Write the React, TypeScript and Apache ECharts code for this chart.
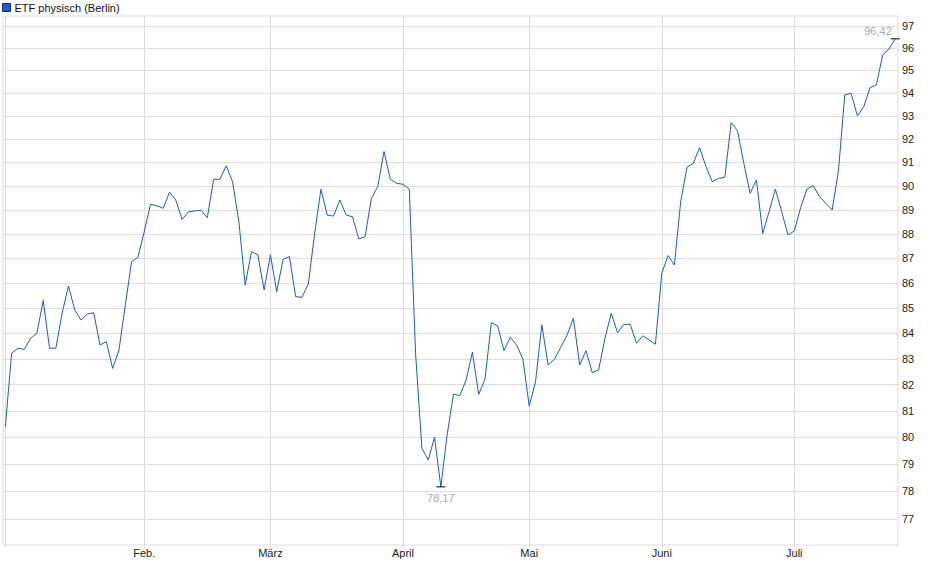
import { useEffect, useRef } from 'react';
import * as echarts from 'echarts';

// trading days (Berlin), 2025, one array per month
const janDays = [2, 3, 6, 7, 8, 9, 10, 13, 14, 15, 16, 17, 20, 21, 22, 23, 24, 27, 28, 29, 30, 31];
const febDays = [3, 4, 5, 6, 7, 10, 11, 12, 13, 14, 17, 18, 19, 20, 21, 24, 25, 26, 27, 28];
const marDays = [3, 4, 5, 6, 7, 10, 11, 12, 13, 14, 17, 18, 19, 20, 21, 24, 25, 26, 27, 28, 31];
const aprDays = [1, 2, 3, 4, 7, 8, 9, 10, 11, 14, 15, 16, 17, 22, 23, 24, 25, 28, 29, 30];
const mayDays = [2, 5, 6, 7, 8, 9, 12, 13, 14, 15, 16, 19, 20, 21, 22, 23, 26, 27, 28, 29, 30];
const junDays = [2, 3, 4, 5, 6, 9, 10, 11, 12, 13, 16, 17, 18, 19, 20, 23, 24, 25, 26, 27, 30];
const julDays = [1, 2, 3, 4, 7, 8, 9, 10, 11, 14, 15, 16, 17, 18, 21, 22, 23];

const monthNames = ['Jan.', 'Feb.', 'März', 'April', 'Mai', 'Juni', 'Juli'];

// closing prices, EUR
const janPrices = [80.4, 83.22, 83.41, 83.37, 83.8, 84.0, 85.3, 83.41, 83.41, 84.8, 85.88, 84.92, 84.52, 84.76, 84.81, 83.54, 83.67, 82.63, 83.34, 85.1, 86.86, 87.04];
const febPrices = [88.08, 89.23, 89.17, 89.06, 89.73, 89.41, 88.6, 88.91, 88.95, 88.98, 88.67, 90.28, 90.28, 90.85, 90.18, 88.51, 85.92, 87.27, 87.14, 85.72];
const marPrices = [87.14, 85.65, 86.96, 87.07, 85.45, 85.43, 85.96, 88.0, 89.86, 88.78, 88.74, 89.41, 88.78, 88.71, 87.79, 87.89, 89.48, 89.97, 91.46, 90.28, 90.11];
const aprPrices = [90.07, 89.86, 83.2, 79.59, 79.16, 80.01, 78.17, 80.1, 81.64, 81.58, 82.18, 83.26, 81.63, 82.22, 84.42, 84.29, 83.32, 83.84, 83.54, 82.99];
const mayPrices = [81.19, 82.11, 84.33, 82.76, 82.98, 83.45, 83.93, 84.59, 82.76, 83.32, 82.46, 82.57, 83.8, 84.79, 84.02, 84.35, 84.35, 83.61, 83.9, 83.74, 83.57];
const junPrices = [86.39, 87.11, 86.73, 89.34, 90.79, 90.96, 91.63, 90.82, 90.18, 90.32, 90.37, 92.71, 92.36, 90.96, 89.69, 90.25, 88.02, 88.92, 89.87, 88.92, 87.96];
const julPrices = [88.12, 89.09, 89.87, 90.01, 89.55, 89.27, 88.99, 90.65, 93.92, 93.99, 93.0, 93.4, 94.24, 94.36, 95.69, 95.96, 96.42];

const yTicks = [77, 78, 79, 80, 81, 82, 83, 84, 85, 86, 87, 88, 89, 90, 91, 92, 93, 94, 95, 96, 97];

const monthDays = [janDays, febDays, marDays, aprDays, mayDays, junDays, julDays];
const monthPrices = [janPrices, febPrices, marPrices, aprPrices, mayPrices, junPrices, julPrices];

const dates = monthDays.flatMap((days, m) => days.map((d) => ({ month: m, day: d })));
const prices = monthPrices.flat();
const monthStarts = monthDays.map((_, m) => dates.findIndex((d) => d.month === m));

const FONT = '"Liberation Sans", Arial, sans-serif';
const GRID = '#dcdcdc';

const fmt = (v: number) => Number(v).toFixed(2).replace('.', ',');

export default function App() {
  const chartRef = useRef<HTMLDivElement>(null);

  useEffect(() => {
    document.body.style.margin = '0';
    if (!chartRef.current) return;
    const chart = echarts.init(chartRef.current, undefined, { renderer: 'svg' });

    const option: any = {
      animation: false,
      backgroundColor: '#fff',
      textStyle: { fontFamily: FONT },
      legend: {
        left: 2,
        top: 2,
        padding: 0,
        icon: 'rect',
        itemWidth: 8,
        itemHeight: 8,
        itemStyle: { borderColor: '#0b2d70', borderWidth: 1 },
        textStyle: { fontSize: 11, color: '#111', fontFamily: FONT, padding: [0, 0, 0, -1] },
        data: ['ETF physisch (Berlin)'],
      },
      grid: {
        left: 3,
        right: 42,
        top: 16,
        bottom: 34,
        show: true,
        borderColor: GRID,
        borderWidth: 1,
        backgroundColor: 'transparent',
      },
      xAxis: {
        type: 'value',
        min: -0.37,
        max: prices.length - 1 + 0.43,
        axisLine: { show: false },
        axisTick: {
          show: true,
          customValues: monthStarts,
          length: 3,
          lineStyle: { color: GRID },
        },
        axisLabel: {
          customValues: monthStarts.slice(1),
          formatter: (v: number) => monthNames[dates[Math.round(v)].month],
          color: '#222',
          fontSize: 11,
          fontFamily: FONT,
          margin: 2,
        },
        splitLine: { show: true, lineStyle: { color: GRID } },
      },
      yAxis: {
        type: 'log',
        position: 'right',
        min: 76.07,
        max: 97.455,
        axisLine: { show: false },
        axisTick: { show: false, customValues: yTicks },
        axisLabel: {
          customValues: yTicks,
          formatter: (v: number) => String(Math.round(v)),
          color: '#222',
          fontSize: 11,
          fontFamily: FONT,
          margin: 4,
        },
        splitLine: { show: true, lineStyle: { color: GRID } },
      },
      series: [
        {
          name: 'ETF physisch (Berlin)',
          type: 'line',
          data: prices.map((v, i) => [i, v]),
          symbol: 'none',
          color: '#1d5bc6',
          lineStyle: { color: '#1d5bc6', width: 1 },
          markPoint: {
            symbol: 'rect',
            symbolSize: [9, 1],
            itemStyle: { color: '#000' },
            label: { fontSize: 11, color: '#aaa', fontFamily: FONT },
            data: [
              {
                type: 'min',
                valueDim: 'y',
                label: { position: 'bottom', distance: 5, formatter: (p: any) => fmt(p.value) },
              },
              {
                type: 'max',
                valueDim: 'y',
                label: { position: 'left', distance: 1, offset: [2, -8], formatter: (p: any) => fmt(p.value) },
              },
            ],
          },
        },
      ],
    };

    chart.setOption(option);
    return () => chart.dispose();
  }, []);

  return <div ref={chartRef} style={{ width: 940, height: 579 }} />;
}
